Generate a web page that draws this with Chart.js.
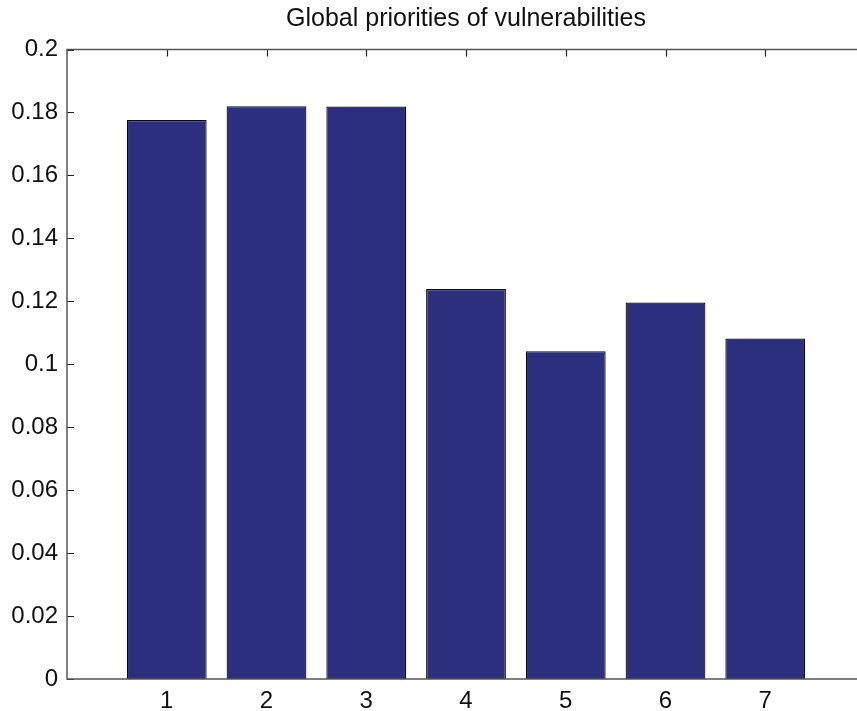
<!DOCTYPE html>
<html>
<head>
<meta charset="utf-8">
<script src="https://cdn.jsdelivr.net/npm/chart.js@4/dist/chart.umd.min.js"></script>
<style>
  html, body { margin: 0; padding: 0; background: #fff; overflow: hidden; }
  #wrap { width: 857px; height: 711px; overflow: hidden; }
  canvas { display: block; }
</style>
</head>
<body>
<div id="wrap"><canvas id="c" width="900" height="711"></canvas></div>
<script>
// Vulnerability indices and their global priorities
const vulnerabilities = [1, 2, 3, 4, 5, 6, 7];
const priorities = [0.1776, 0.1820, 0.1819, 0.1239, 0.1041, 0.1196, 0.1082];
const yTicks = [0, 0.02, 0.04, 0.06, 0.08, 0.1, 0.12, 0.14, 0.16, 0.18, 0.2];

const FONT = '"Liberation Sans", Arial, Helvetica, sans-serif';

// Axes box with inward-pointing tick marks on all four sides.
// Tick marks go under the bars, the box outline goes on top.
const boxTicks = {
  id: 'boxTicks',
  beforeDatasetsDraw(chart) {
    const { ctx, chartArea: a, scales: { x, y } } = chart;
    ctx.save();
    ctx.strokeStyle = '#222';
    ctx.lineWidth = 1.2;
    const len = 7;
    ctx.beginPath();
    yTicks.forEach(v => {
      const py = Math.round(y.getPixelForValue(v)) + 0.5;
      ctx.moveTo(a.left, py); ctx.lineTo(a.left + len, py);
      ctx.moveTo(a.right, py); ctx.lineTo(a.right - len, py);
    });
    vulnerabilities.forEach(v => {
      const px = Math.round(x.getPixelForValue(v)) + 0.5;
      ctx.moveTo(px, a.bottom); ctx.lineTo(px, a.bottom - len);
      ctx.moveTo(px, a.top); ctx.lineTo(px, a.top + len);
    });
    ctx.stroke();
    ctx.restore();
  },
  afterDatasetsDraw(chart) {
    const { ctx, chartArea: a } = chart;
    ctx.save();
    ctx.strokeStyle = '#555';
    ctx.lineWidth = 1.5;
    ctx.strokeRect(a.left, a.top, a.right - a.left, a.bottom - a.top);
    ctx.restore();
  }
};

new Chart(document.getElementById('c'), {
  type: 'bar',
  data: {
    datasets: [{
      data: vulnerabilities.map((v, i) => ({ x: v, y: priorities[i] })),
      backgroundColor: '#2c2e7e',
      borderColor: '#0a0a0a',
      borderWidth: 1.2,
      barPercentage: 0.8,
      categoryPercentage: 1.0
    }]
  },
  options: {
    responsive: false,
    animation: false,
    layout: { padding: { left: 0, right: 35, top: 0, bottom: 0 } },
    plugins: {
      legend: { display: false },
      tooltip: { enabled: false },
      title: {
        display: true,
        fullSize: false,
        text: 'Global priorities of vulnerabilities',
        color: '#111',
        font: { family: FONT, size: 25, weight: 'normal', lineHeight: 1.2 },
        padding: { top: 4.5, bottom: 15 }
      }
    },
    scales: {
      x: {
        type: 'linear',
        min: 0,
        max: 8,
        offset: false,
        grid: { display: false, drawTicks: false },
        border: { display: false },
        afterFit: s => { s.height = 32; },
        afterBuildTicks: s => { s.ticks = vulnerabilities.map(v => ({ value: v })); },
        ticks: {
          padding: 8,
          color: '#111',
          font: { family: FONT, size: 24 },
          callback: v => String(v)
        }
      },
      y: {
        min: 0,
        max: 0.2,
        grid: { display: false, drawTicks: false },
        border: { display: false },
        afterFit: s => { s.width = 67; },
        afterBuildTicks: s => { s.ticks = yTicks.map(v => ({ value: v })); },
        ticks: {
          padding: 9,
          color: '#111',
          font: { family: FONT, size: 24 },
          callback: v => String(+v.toFixed(2))
        }
      }
    }
  },
  plugins: [boxTicks]
});
</script>
</body>
</html>
